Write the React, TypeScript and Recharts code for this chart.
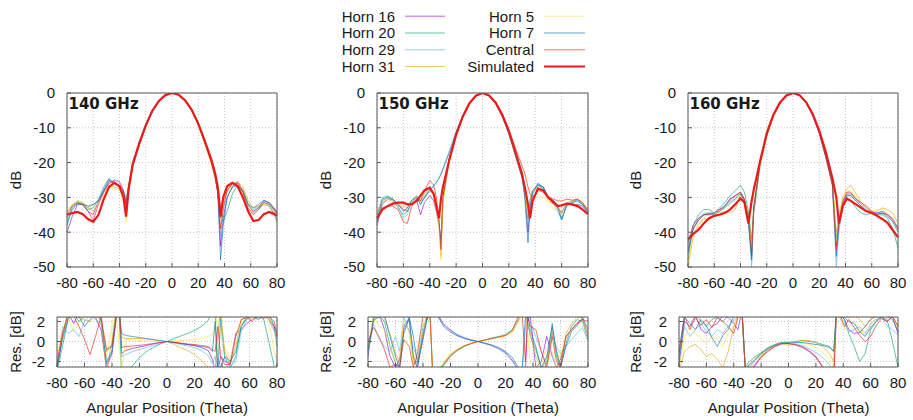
import React from "react";
import { LineChart, Line, XAxis, YAxis, CartesianGrid, ReferenceLine } from "recharts";

// ---------- angle grids (degrees) ----------
const ANG_140 = [-80,-76,-72,-68,-64,-60,-56,-52,-48,-44,-40,-37,-35,-33,-30,-25,-20,-15,-10,-5,0,5,10,15,20,25,30,33,35,37,39,42,46,50,54,58,62,66,70,74,78,80];
const ANG_150 = [-80,-76,-72,-68,-64,-60,-57,-54,-50,-47,-44,-40,-37,-35,-33,-31.5,-30,-25,-20,-15,-10,-5,0,5,10,15,20,25,30,32,34.5,36,38,42,46,50,54,57,60,64,68,72,76,80];
const ANG_160 = [-80,-76,-72,-68,-64,-60,-56,-52,-48,-44,-40,-37,-34,-31.5,-30,-25,-20,-15,-10,-5,0,5,10,15,20,25,30,33,35,38,41,44,48,52,56,60,64,68,72,76,80];

// ---------- 140 GHz beam (dB) ----------
const SIM_140 = [-35,-34.5,-34.2,-34.8,-36.2,-37,-35,-30.5,-27,-25.8,-26.8,-30,-35.5,-27.5,-20.5,-14.5,-9.3,-5.1,-2.3,-0.6,0,-0.5,-2.1,-4.8,-8.8,-13.8,-19.2,-23.5,-27.5,-35.5,-30,-26.8,-25.8,-26.8,-30,-34,-36.8,-36.5,-34.8,-34.2,-34.8,-35.3];
const H16_140 = [-40,-35.5,-32,-32,-34,-35,-31,-28,-26,-25,-25.5,-28,-33,-27.5,-21,-15,-9.6,-5.3,-2.4,-0.6,0,-0.5,-2.2,-5,-9,-14.2,-20,-24,-29,-44,-36,-30,-27,-25.5,-28,-32,-34,-33,-31,-31.5,-33,-34];
const H20_140 = [-37,-33,-31.5,-32,-33.5,-33,-30.5,-27,-24.5,-26,-27,-29.5,-31,-28,-21.5,-15.2,-9.8,-5.4,-2.5,-0.7,0,-0.4,-2,-4.6,-8.5,-13.4,-18.8,-22.5,-26,-33,-37,-34,-29,-26.5,-28.5,-32,-34.5,-33,-32,-32.5,-35,-37];
const H29_140 = [-36,-32.5,-31,-31.5,-33,-32,-31,-27.5,-24.8,-26,-27,-28,-30,-26.5,-20.8,-14.8,-9.5,-5.2,-2.4,-0.6,0,-0.5,-2.2,-4.9,-8.9,-14,-19.6,-23.8,-28.5,-41,-34,-28,-26.5,-26,-28,-32.5,-33.5,-32.5,-31,-31.5,-34,-35];
const H31_140 = [-34,-32,-31.2,-31.8,-33,-34,-31.5,-28.5,-26.5,-27,-27.5,-28.5,-31,-26.5,-20.6,-14.6,-9.4,-5.2,-2.3,-0.6,0,-0.6,-2.3,-5.1,-9.3,-14.6,-20.5,-25,-29,-36,-31,-28.5,-26,-25.5,-27,-31,-33,-32.5,-31.5,-32,-34.5,-37];
const H5_140 = [-34.5,-32,-31,-31.2,-32.5,-33,-31.5,-29,-27,-27.5,-28,-30,-37,-28,-20.8,-14.7,-9.4,-5.1,-2.3,-0.6,0,-0.5,-2.1,-4.8,-8.7,-13.7,-19.1,-23.3,-27.5,-33,-30,-28,-26.5,-26,-27.5,-32,-34.5,-33.5,-32,-32,-33.5,-34.5];
const H7_140 = [-38,-33.5,-31.8,-32,-32.5,-32,-31,-28,-25,-26,-26.5,-28,-31.5,-27,-20.3,-14.4,-9.2,-5.1,-2.3,-0.6,0,-0.5,-2.1,-4.9,-8.9,-13.9,-19.5,-24,-29,-48,-38,-30,-27,-26.5,-28,-32,-33,-32,-30.8,-31.5,-33.5,-35];
const CEN_140 = [-35,-32.5,-31.5,-32.2,-34,-36.5,-32,-28.5,-25.5,-25.5,-26.5,-28.5,-32,-27,-20.9,-14.8,-9.5,-5.2,-2.4,-0.6,0,-0.5,-2.2,-5,-9,-14.1,-19.7,-24,-28.5,-39,-33,-28,-26,-26,-28.5,-33,-35,-33.5,-31.5,-32,-33.5,-34.5];

// ---------- 150 GHz beam (dB) ----------
const SIM_150 = [-36,-33.5,-32.5,-31.8,-31.5,-31.5,-32,-32,-31,-29.5,-28,-27.2,-29,-32.5,-36,-30.5,-27,-19,-12,-6.8,-3,-0.8,0,-0.7,-2.8,-6.3,-11,-17,-23.5,-27,-32,-36,-31,-27.5,-28,-30,-31.5,-32.5,-32.3,-31.8,-32,-32.5,-33.5,-34.8];
const H16_150 = [-38,-32,-30.5,-30.5,-32,-33.5,-34,-32,-30.5,-35,-31.5,-29.5,-31,-34,-38,-42,-30,-18.5,-11.8,-6.9,-3.1,-0.8,0,-0.8,-3,-6.6,-11.5,-17.5,-23,-28,-40,-33,-28,-26.5,-27,-30,-31,-33,-34.5,-32,-32,-32,-32.5,-34.5];
const H20_150 = [-37,-31,-30,-31,-33,-35,-34,-31,-29.5,-31,-30,-28,-29,-32,-37,-44,-31,-19,-12.2,-7,-3.1,-0.8,0,-0.7,-2.9,-6.4,-11.2,-17.2,-22.5,-26.5,-36,-31,-28,-26.5,-27.5,-30.5,-31,-32,-36,-32.5,-31.5,-30.5,-32,-34];
const H29_150 = [-35,-30,-29.5,-30.5,-32.5,-36,-35,-31.5,-30,-32,-30,-27.5,-26.5,-25.5,-24.5,-23,-21.5,-16.5,-11,-6.5,-3,-0.8,0,-0.8,-3,-6.6,-11.6,-17.8,-24,-29,-38,-32,-28.5,-26,-27,-30,-32,-34,-36.5,-32,-31,-31,-32.5,-34.5];
const H31_150 = [-34,-31.5,-30.5,-31,-32,-32.5,-33,-31.5,-30,-31,-29,-27,-29.5,-33,-38,-47,-31,-18.5,-11.8,-6.9,-3.1,-0.8,0,-0.7,-2.9,-6.5,-11.3,-17.3,-22.8,-27,-35,-30.5,-28,-27,-28,-31,-32,-33,-34,-31.5,-31,-30.5,-31.5,-33.5];
const H5_150 = [-35,-31,-30.5,-31,-32,-33,-33.5,-31.5,-30,-31.5,-29.5,-27,-29,-34,-39,-48,-31,-18.8,-12,-7,-3.1,-0.8,0,-0.8,-3,-6.7,-11.7,-18,-24,-29,-35,-33,-31,-29.5,-30,-31.5,-33.5,-33,-35,-32,-32,-32.5,-33,-35];
const H7_150 = [-36,-30.5,-29.8,-30.5,-32,-34,-33,-31,-30,-32,-30,-28,-26.8,-25.8,-24.5,-23.5,-22,-17,-11.2,-6.6,-3,-0.8,0,-0.8,-3.1,-6.8,-11.8,-18.2,-24.5,-30,-43,-34,-29,-26,-27,-30,-31,-33,-36.5,-32,-31.5,-31,-32,-34];
const CEN_150 = [-37,-33,-32.5,-32.5,-33.5,-37,-37.5,-33,-30.5,-31,-28,-25.2,-26.5,-30,-36,-45,-30,-18.5,-11.8,-6.8,-3,-0.8,0,-0.6,-2.6,-5.9,-10.4,-15.8,-21,-23,-27,-29,-30,-28,-28.5,-30,-30.5,-31,-31,-30.5,-30.8,-30.5,-31.5,-34];

// ---------- 160 GHz beam (dB) ----------
const SIM_160 = [-42,-40.5,-39.3,-37.5,-36,-35.3,-35,-34.5,-33.5,-32,-30.3,-31.5,-37.5,-31,-28,-19.5,-11.5,-6.3,-2.8,-0.7,0,-0.6,-2.6,-6,-10.8,-17,-24.5,-30,-37.5,-32.5,-30.3,-31,-32,-33,-34,-34.5,-35.3,-36.2,-37.3,-39.4,-41.5];
const H16_160 = [-46,-39,-36.5,-35,-34.5,-34.5,-33.5,-32.5,-30.5,-29.5,-28.5,-30.5,-36,-47,-33,-20,-12,-6.5,-2.9,-0.7,0,-0.7,-2.8,-6.4,-11.5,-18.3,-26,-44,-37,-31.5,-29,-29,-30.5,-32,-33,-34.5,-34.5,-34,-35,-36,-39];
const H20_160 = [-48,-38,-35,-33.5,-33.5,-34.5,-33,-31.5,-29.5,-28,-26.5,-28.5,-34,-42,-34,-20.5,-12.3,-6.6,-2.9,-0.7,0,-0.6,-2.7,-6.2,-11.2,-17.8,-25.5,-42,-36,-32,-30.5,-31,-33,-34.5,-35,-34.5,-35,-35,-36,-39,-44.5];
const H29_160 = [-44,-38,-36,-34.5,-34.5,-34.5,-34,-32.5,-31,-30,-28.5,-31,-37,-50,-35,-20.5,-12.4,-6.7,-3,-0.7,0,-0.7,-2.9,-6.5,-11.6,-18.6,-26.5,-50,-40,-32,-29.5,-29.5,-31,-32.5,-33.5,-34.5,-35,-34.5,-35,-36.5,-38.5];
const H31_160 = [-50,-41,-38,-36,-36.5,-35.5,-34.5,-34,-34.5,-33.5,-29,-31,-35,-44,-35,-20,-12.1,-6.6,-2.9,-0.7,0,-0.6,-2.6,-6.1,-11,-17.5,-25,-40,-35,-30,-27.5,-26.5,-29,-31.5,-33,-34,-34,-33,-33.5,-34.5,-37.5];
const H5_160 = [-49,-40,-37.5,-36,-35,-34.5,-34,-33,-32,-31,-29.5,-31.5,-36.5,-45,-34,-21,-12.6,-6.8,-3,-0.7,0,-0.6,-2.7,-6.2,-11.2,-17.8,-25.5,-43,-36,-31,-28.5,-28,-30,-32,-33,-34,-33.5,-33.5,-34.5,-36,-39.5];
const H7_160 = [-45,-39,-36.5,-35,-34.8,-35,-34,-33,-31.5,-30.5,-29,-31,-36.5,-48,-34,-20,-12.2,-6.6,-2.9,-0.7,0,-0.7,-2.8,-6.4,-11.4,-18.2,-26,-47,-38,-32,-29.5,-29.5,-31,-32.5,-34,-34.5,-34.5,-34.5,-35.5,-37,-40];
const CEN_160 = [-43,-38,-36,-35,-35,-34.5,-33.5,-32.5,-30.5,-29.5,-28.5,-30.5,-36,-46,-33,-19.5,-12,-6.5,-2.9,-0.7,0,-0.7,-2.8,-6.4,-11.5,-18.5,-26.5,-45,-37,-31,-28.5,-28.5,-30.5,-31.5,-32.5,-34,-35,-34.5,-35,-36.5,-39];

// ---------- residuals (dB) ----------
const R16_140 = [-2.8,0.5,3,1.8,2.8,2.6,3,2.4,1.2,-2.6,-1.2,2.2,4,-1.2,-0.9,-0.7,-0.55,-0.4,-0.25,-0.1,0,-0.1,-0.2,-0.3,-0.4,-0.6,-0.9,-1.8,-2.8,-3,-1.5,-2,-2.2,0.8,1.2,1.8,2.2,2.5,3,2.2,1.5,1.0];
const R20_140 = [-3,-0.5,2.2,3,2,2.5,2.8,3,2,-1,-0.3,3,3.5,-3.5,-3,-2.4,-1.6,-1,-0.6,-0.25,0,0.3,0.55,0.8,1.1,1.5,2.1,3.2,3,-3,2.5,-1.5,-2.6,-1.5,1.5,2.5,2.5,2.6,2.4,0,-2.5,-3];
const R29_140 = [-3,1.5,0.8,1.2,0.5,2,2.6,2.2,1.8,-2,-0.8,2.5,4,-1.5,-1.3,-1,-0.8,-0.6,-0.4,-0.2,0,-0.15,-0.3,-0.45,-0.6,-0.9,-1.4,-2.2,-1.5,-3,2,-1.8,-2.4,-2,1,2.2,2.5,2.3,2.6,2.2,1,0.5];
const R31_140 = [-2.2,0.5,2.5,3,2.4,2.2,2,2.6,2.2,-3,0,3,4,0.4,0.3,0.3,0.3,0.25,0.15,0.05,0,-0.3,-0.6,-0.9,-1.3,-1.9,-2.6,-3,-3,1,2.8,-1,-2.2,-0.5,2.2,2.5,2.2,2.6,2.5,2.4,1.2,0.8];
const R5_140 = [-1.5,1.2,2.5,1,1.8,2.5,2.8,3,2.2,-1.5,1.5,3,0,-3,0.2,0.15,0.1,0.05,0.03,0,0,0.05,0.1,0.15,0.2,0.3,0.5,0.7,1.5,3,0.5,-0.5,-1.8,0.5,1.8,2.5,2.2,2.4,2.6,2.2,-1,-2];
const R7_140 = [-2.5,0.2,2.2,2.8,2.5,1.5,2.2,2.8,2.5,-2.2,-1,2.5,3.5,0.8,0.6,0.5,0.4,0.3,0.2,0.1,0,-0.1,-0.2,-0.3,-0.4,-0.5,-0.6,-1,2,-3,-2.5,-1.5,-2,-1,1.5,2.3,2.6,2.2,2.5,2.8,1.5,-0.5];
const RC_140 = [-2,0.8,2.7,2.6,1.5,0.2,-1.3,0.5,2.5,-0.8,-0.5,2.4,3.8,-0.6,-0.5,-0.45,-0.4,-0.3,-0.2,-0.1,0,-0.05,-0.15,-0.25,-0.3,-0.4,-0.5,-0.8,-1,1.5,-1.5,-2.3,-2.3,0.5,2.2,2.4,2,2.6,2.3,2.5,2,0.5];

const R16_150 = [-1.5,2.5,2.8,1.2,-1.5,-2.6,-1.8,1.2,2.2,-1.5,-2.6,0.5,2.6,3,3.5,3,2.8,1.7,1.1,0.65,0.35,0.15,0,-0.2,-0.4,-0.7,-1.1,-1.9,-3,-3.5,-3,2,2.6,-2.6,-2,0.5,-1.5,-2.6,-1.8,0.5,1.2,1.8,2.2,0.5];
const R20_150 = [-1,2.4,2.6,2,-0.5,-2.2,-2.6,1.5,2.4,-1.8,-2.6,1,2.2,3,-3,-3,-3,-2.4,-1.5,-0.9,-0.5,-0.2,0,0.15,0.35,0.5,0.7,1.2,2.4,3,2.8,2,0.5,-0.8,-2.6,-2,1.8,-1.5,-2.6,-0.2,1.5,2.2,2,0.2];
const R29_150 = [-1.2,1.8,0.2,-0.5,-1,0.5,-1,2.5,1,-0.5,-1.8,1.5,2.4,3,3.5,3,2.9,1.8,1.2,0.7,0.4,0.18,0,-0.2,-0.4,-0.75,-1.2,-2,-3,-3.5,1.5,2.4,2,0.5,-1,-2.2,0.8,-0.5,-1.2,-0.5,0.2,0.8,1.4,0];
const R31_150 = [-0.3,2,2.8,2.4,0.8,-1.2,-2,1.8,1.2,-2.2,-2,0.8,2.6,3,-3,-3,-3,-2.2,-1.3,-0.8,-0.42,-0.2,0,0.14,0.28,0.42,0.58,1,2.2,2.8,2.6,1.8,0.8,-1.5,-2.6,-2.4,1,-0.8,-2.4,0.8,1.8,2.4,2.4,0.8];
const R5_150 = [-0.5,2.6,1.5,1.2,-0.5,-2,-1.5,2.2,0.8,-2.2,-0.5,1.8,2.6,3,-3,-3,-3,-2,-1.2,-0.75,-0.4,-0.18,0,0.12,0.25,0.4,0.55,0.9,2,2.6,2.5,1.2,-2.2,-2.6,-2.2,-0.5,-1,-2.6,-1.2,0.3,1.2,1.5,2,0.5];
const R7_150 = [-0.8,2.2,2.4,2.6,0.5,-1.5,-2.6,0.8,2.4,0.5,-2.2,0.2,2.2,3,3.5,3,2.7,1.5,0.95,0.55,0.3,0.12,0,-0.15,-0.35,-0.6,-1,-1.6,-2.8,-3,2.5,2.8,1.2,-0.5,-2.6,-1.5,1.5,-1,-2.6,-0.5,1,1.6,2.4,1.2];
const RC_150 = [0,1.4,0.5,-0.8,-2.6,-2.2,-2.6,0.2,-0.5,-2.6,-1.2,2.6,2.2,2.8,-3,-3,-3,-2.3,-1.4,-0.85,-0.45,-0.2,0,0.15,0.3,0.45,0.6,1.1,2.8,3,-2,2.5,1.5,1.2,-1,-2.6,0.5,-2,-2.6,0.5,1.2,1.8,2.2,2];

const R16_160 = [-2.5,2,1.5,2.6,1.2,0.8,1.5,1.8,2.6,2.4,1.8,1.2,3,-3,-3,-2.4,-1.5,-0.9,-0.5,-0.25,-0.2,-0.3,-0.5,-0.9,-1.5,-2.5,-3.5,-3.8,3,2.5,2.2,1.2,0.8,0.9,1.5,2.2,2.6,2.4,2,2.5,0.8];
const R20_160 = [-1,2.6,2.5,2.8,2,1.5,2.2,2.4,2,2.6,2.8,2.5,3.5,-3,-2.2,-1.6,-1.1,-0.6,-0.3,-0.1,-0.1,0,0.1,0,-0.1,-0.3,-0.5,-1,3,2.6,2.2,0.8,-0.5,-2,-1.2,1.2,2,2.4,2.2,0,-2.6];
const R29_160 = [-2,1.5,0.5,1.2,1.8,1,0.5,1.2,0.8,1.5,2.2,2.4,3,-3,-2.8,-2,-1.3,-0.8,-0.4,-0.2,-0.2,-0.25,-0.4,-0.7,-1.1,-1.6,-2.3,-3,3,2.2,1.8,1,1.2,1.5,0.8,1.8,2.2,2.4,1.6,1.2,0.6];
const R31_160 = [-3,-1,-0.5,-0.3,-0.8,-1.5,-1.2,-1.8,-2.6,-1,1.5,2.6,3,-3,-2.6,-1.8,-1.2,-0.7,-0.35,-0.15,-0.4,-0.1,0.1,0.1,-0.1,-0.5,-1.2,-2,3,2.7,2.5,2.4,2.6,2.2,1.5,2.2,2.5,2.7,2.4,2.6,1.5];
const R5_160 = [-2.6,0.5,1.5,0.8,0.3,-0.2,0.5,0.2,-0.5,0.8,1.5,2.2,3,-3,-3,-2.2,-1.4,-0.8,-0.4,-0.2,-0.3,-0.15,-0.15,-0.3,-0.6,-1.1,-1.8,-2.5,3,2.4,1.2,1.5,2,1.2,0.6,1.6,2.4,2.6,2.3,2.6,1.2];
const R7_160 = [-1.8,2.4,1.8,1.2,2.2,1.6,0.4,-0.5,0.6,1.2,2.6,2.8,3.2,-3,-2.5,-1.9,-1.2,-0.7,-0.35,-0.15,-0.15,-0.1,-0.1,-0.2,-0.3,-0.4,-0.6,-1,3,2.6,2.4,2,1.8,1,0.5,1.4,2,2.6,2.5,2.2,1];
const RC_160 = [-1.2,2.6,1.2,2.4,1.6,2.2,1.4,2.4,2,1.5,0.8,2.4,3,-3,-3.2,-2.5,-1.6,-1,-0.5,-0.2,-0.2,-0.35,-0.6,-1,-1.6,-2.6,-3.5,-4,3,2.5,1.5,2.2,1.4,0.6,0,0.5,1.6,2.3,2,2.5,1.5];

// ---------- ticks / labels ----------
const X_TICKS = [-80, -60, -40, -20, 0, 20, 40, 60, 80];
const DB_TICKS = [-50, -40, -30, -20, -10, 0];
const RES_TICKS = [-2, 0, 2];
const FREQ_LABELS = ["140 GHz", "150 GHz", "160 GHz"];
const KEYS = ["h16", "h20", "h29", "h31", "h5", "h7", "central"];
const NAMES: Record<string, string> = {
  h16: "Horn 16", h20: "Horn 20", h29: "Horn 29", h31: "Horn 31",
  h5: "Horn 5", h7: "Horn 7", central: "Central", sim: "Simulated",
};
const COLORS: Record<string, string> = {
  h16: "#9400d3", h20: "#009e73", h29: "#56b4e9", h31: "#e69f00",
  h5: "#f0e442", h7: "#0072b2", central: "#e51e10", sim: "#ec1a1a",
};

function table(angles: number[], cols: Record<string, number[]>) {
  return angles.map((a, i) => {
    const row: Record<string, number> = { x: a };
    Object.keys(cols).forEach((k) => { row[k] = cols[k][i]; });
    return row;
  });
}

const MAIN_DATA = [
  table(ANG_140, { h16: H16_140, h20: H20_140, h29: H29_140, h31: H31_140, h5: H5_140, h7: H7_140, central: CEN_140, sim: SIM_140 }),
  table(ANG_150, { h16: H16_150, h20: H20_150, h29: H29_150, h31: H31_150, h5: H5_150, h7: H7_150, central: CEN_150, sim: SIM_150 }),
  table(ANG_160, { h16: H16_160, h20: H20_160, h29: H29_160, h31: H31_160, h5: H5_160, h7: H7_160, central: CEN_160, sim: SIM_160 }),
];
const RES_DATA = [
  table(ANG_140, { h16: R16_140, h20: R20_140, h29: R29_140, h31: R31_140, h5: R5_140, h7: R7_140, central: RC_140 }),
  table(ANG_150, { h16: R16_150, h20: R20_150, h29: R29_150, h31: R31_150, h5: R5_150, h7: R7_150, central: RC_150 }),
  table(ANG_160, { h16: R16_160, h20: R20_160, h29: R29_160, h31: R31_160, h5: R5_160, h7: R7_160, central: RC_160 }),
];

const FONT = "'Liberation Sans', Arial, Helvetica, sans-serif";
const YW = 60, MT = 10, MR = 10, XH = 40;
const FRAME = "#5a5a5a";

type PlotProps = {
  box: number[]; data: any[]; yDomain: number[]; yTicks: number[];
  withSim: boolean; xTickMargin: number;
};

function Plot({ box, data, yDomain, yTicks, withSim, xTickMargin }: PlotProps) {
  const [l, t, r, b] = box;
  const w = r - l + YW + MR;
  const h = b - t + MT + XH;
  const tickStyle = { fontFamily: FONT, fontSize: 15, fill: "#1a1a1a" };
  return (
    <div style={{ position: "absolute", left: l - YW, top: t - MT }}>
      <LineChart width={w} height={h} data={data} margin={{ top: MT, right: MR, bottom: 0, left: 0 }}>
        <CartesianGrid stroke="#c4c4c4" strokeDasharray="1 2" />
        <XAxis type="number" dataKey="x" domain={[-80, 80]} ticks={X_TICKS} interval={0}
          height={XH} axisLine={false} tickSize={-4} tickMargin={xTickMargin}
          tickLine={{ stroke: FRAME }} tick={tickStyle} />
        <YAxis type="number" domain={yDomain} ticks={yTicks} interval={0} width={YW}
          allowDataOverflow axisLine={false} tickSize={-4} tickMargin={16}
          tickLine={{ stroke: FRAME }} tick={tickStyle} />
        {KEYS.map((k) => (
          <Line key={k} dataKey={k} type="linear" stroke={COLORS[k]} strokeOpacity={0.62}
            strokeWidth={1} dot={false} activeDot={false} isAnimationActive={false} />
        ))}
        {withSim && (
          <Line dataKey="sim" type="linear" stroke={COLORS.sim} strokeWidth={2.2}
            dot={false} activeDot={false} isAnimationActive={false} />
        )}
        <ReferenceLine x={-80} stroke={FRAME} strokeWidth={1} />
        <ReferenceLine x={80} stroke={FRAME} strokeWidth={1} />
        <ReferenceLine y={yDomain[0]} stroke={FRAME} strokeWidth={1} />
        <ReferenceLine y={yDomain[1]} stroke={FRAME} strokeWidth={1} />
      </LineChart>
    </div>
  );
}

const MAIN_BOXES = [[67, 93, 277, 267], [377, 93, 588, 267], [688, 93, 898, 267]];
const RES_BOXES = [[57, 317, 277, 367], [368, 317, 588, 367], [679, 317, 898, 367]];
const Y_LABEL_X = [15, 325, 635];

const LEGEND_COL1 = ["h16", "h20", "h29", "h31"];
const LEGEND_COL2 = ["h5", "h7", "central", "sim"];
const LEGEND_ROWS = [16.2, 33, 49.8, 66.5];

export default function App() {
  return (
    <div style={{ position: "absolute", left: 0, top: 0, width: 913, height: 420, background: "#fff", overflow: "hidden" }}>
      {MAIN_BOXES.map((box, i) => (
        <Plot key={"m" + i} box={box} data={MAIN_DATA[i]} yDomain={[-50, 0]} yTicks={DB_TICKS} withSim xTickMargin={14.65} />
      ))}
      {RES_BOXES.map((box, i) => (
        <Plot key={"r" + i} box={box} data={RES_DATA[i]} yDomain={[-2.55, 2.45]} yTicks={RES_TICKS} withSim={false} xTickMargin={14.05} />
      ))}
      <svg width={913} height={420} style={{ position: "absolute", left: 0, top: 0, pointerEvents: "none" }}>
        {LEGEND_COL1.map((k, i) => (
          <g key={k}>
            <text x={395} y={LEGEND_ROWS[i] + 5.4} textAnchor="end" fontFamily={FONT} fontSize={15} fill="#1a1a1a">{NAMES[k]}</text>
            <line x1={405} x2={445} y1={LEGEND_ROWS[i]} y2={LEGEND_ROWS[i]} stroke={COLORS[k]} strokeOpacity={0.62} strokeWidth={1} />
          </g>
        ))}
        {LEGEND_COL2.map((k, i) => (
          <g key={k}>
            <text x={534} y={LEGEND_ROWS[i] + 5.4} textAnchor="end" fontFamily={FONT} fontSize={15} fill="#1a1a1a">{NAMES[k]}</text>
            <line x1={544} x2={585} y1={LEGEND_ROWS[i]} y2={LEGEND_ROWS[i]} stroke={COLORS[k]}
              strokeOpacity={k === "sim" ? 1 : 0.62} strokeWidth={k === "sim" ? 2.2 : 1} />
          </g>
        ))}
        {MAIN_BOXES.map((box, i) => (
          <text key={"t" + i} x={box[0] + 1.5} y={108.5} fontFamily="'DejaVu Sans', sans-serif" fontWeight="bold" fontSize={15} fill="#1a1a1a">{FREQ_LABELS[i]}</text>
        ))}
        {Y_LABEL_X.map((x, i) => (
          <g key={"y" + i}>
            <text x={x} y={180} transform={`rotate(-90 ${x} 180)`} textAnchor="middle" dominantBaseline="central" fontFamily={FONT} fontSize={15} fill="#1a1a1a">dB</text>
            <text x={x} y={342} transform={`rotate(-90 ${x} 342)`} textAnchor="middle" dominantBaseline="central" fontFamily={FONT} fontSize={15} fill="#1a1a1a">Res. [dB]</text>
          </g>
        ))}
        {RES_BOXES.map((box, i) => (
          <text key={"a" + i} x={(box[0] + box[2]) / 2} y={412.5} textAnchor="middle" fontFamily={FONT} fontSize={15} fill="#1a1a1a">Angular Position (Theta)</text>
        ))}
      </svg>
    </div>
  );
}
